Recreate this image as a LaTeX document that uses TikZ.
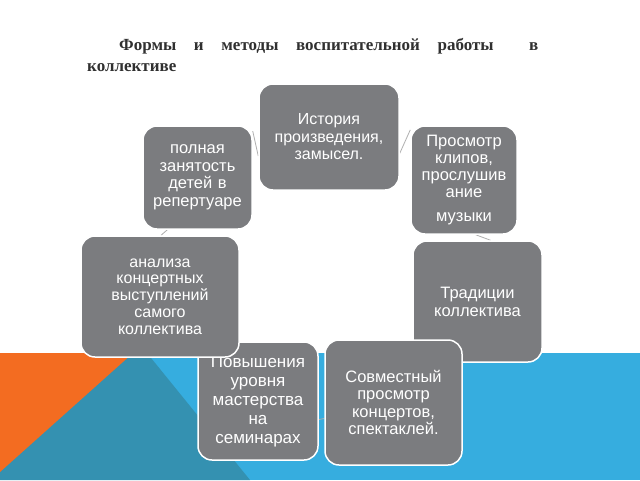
\documentclass[tikz,border=0pt]{standalone}
\usepackage{fontspec}
\setmainfont{Liberation Serif}
\newfontfamily\boxfont{Liberation Sans}
\definecolor{boxgray}{HTML}{7B7C7F}
\definecolor{bandblue}{HTML}{36ADDF}
\definecolor{deepblue}{HTML}{3491B1}
\definecolor{bandorange}{HTML}{F36C21}
\definecolor{titlegray}{HTML}{303030}
\definecolor{conngray}{HTML}{AFAFAF}
\pgfdeclarelayer{bg}
\pgfdeclarelayer{links}
\pgfsetlayers{bg,links,main}
\begin{document}
\begin{tikzpicture}[x=1pt,y=-1pt,
  box/.style={draw=white, line width=1.5pt, fill=boxgray, rounded corners=14pt,
    inner sep=0pt, align=center, text=white},
  fs/.style 2 args={font=\boxfont\fontsize{#1}{#2}\selectfont},
  link/.style={draw=conngray, line width=0.8pt},
  titletext/.style={anchor=north west, inner sep=0pt, text width=451pt, align=justify,
    text=titlegray, font=\bfseries\fontsize{17}{21}\selectfont}]
\useasboundingbox (0,0) rectangle (640,480);
\begin{pgfonlayer}{bg}
  \fill[white] (0,0) rectangle (640,480);
  \fill[bandblue] (0,353) rectangle (640,480);
  \fill[deepblue] (0,353) -- (147,353) -- (250,480) -- (0,480) -- cycle;
  \fill[bandorange] (0,353) -- (133,353) -- (0,472) -- cycle;
\end{pgfonlayer}

\node[titletext] (title) at (87,38) {\hspace*{32pt}Формы и методы воспитательной работы\ \ в\linebreak коллективе};

\node[box, fs={16}{17.5}, minimum width=140pt, minimum height=106pt, text width=136pt] (top) at (329,137)
  {История\\произведения,\\замысел.};
\node[box, fs={16.5}{17.5}, minimum width=109pt, minimum height=103pt, text width=107pt] (lt) at (197.5,177.5)
  {полная\\занятость\\детей в\\репертуаре};
\node[box, fs={16.5}{16.8}, minimum width=106pt, minimum height=108pt, text width=104pt] (rt) at (464,180)
  {Просмотр\\клипов,\\прослушив\\ание\\[7pt]музыки};
\node[box, fs={16.5}{18}, minimum width=129pt, minimum height=121pt, text width=125pt] (rm) at (477.5,301.5)
  {Традиции\\коллектива};
\node[box, fs={17}{19}, minimum width=120pt, minimum height=118pt, text width=118pt] (bl) at (258,401)
  {Повышения\\уровня\\мастерства\\на\\семинарах};
\node[box, fs={16.5}{17.5}, minimum width=137pt, minimum height=125pt, text width=133pt] (br) at (393.5,402.5)
  {Совместный\\просмотр\\концертов,\\спектаклей.};
\node[box, fs={16}{16.8}, minimum width=158pt, minimum height=121pt, text width=154pt] (lm) at (160,296.5)
  {анализа\\концертных\\выступлений\\самого\\коллектива};

\begin{pgfonlayer}{links}
  \draw[link] (lt.40.5) -- (top.195.9);
  \draw[link] (top.347.3) -- (rt.137.8);
  \draw[link] (rt.282.5) -- (rm.78.3);
  \draw[link] (bl.343.3) -- (br.193.5);
  \draw[link] (lm.89) -- (lt.240.2);
\end{pgfonlayer}
\end{tikzpicture}
\end{document}
